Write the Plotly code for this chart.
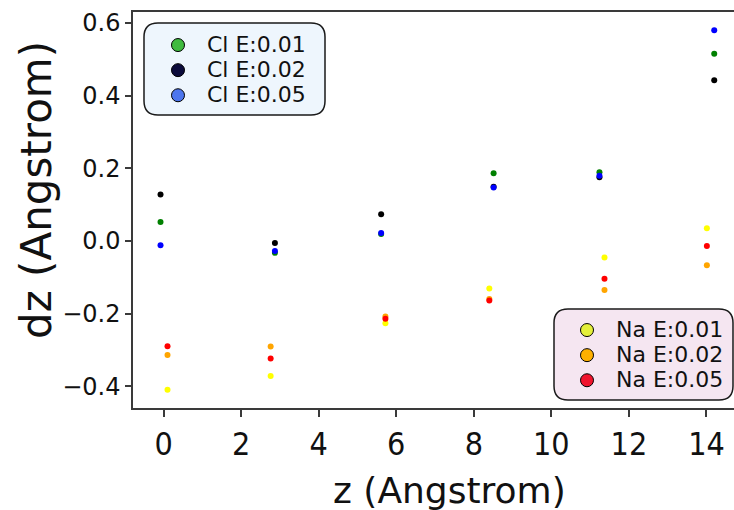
import plotly.graph_objects as go

# ---- data: ion positions along z and their vertical displacement dz (Angstrom)
cl_z = [-0.08, 2.87, 5.61, 8.51, 11.24, 14.20]
na_z = [0.10, 2.76, 5.72, 8.40, 11.37, 14.01]

cl_dz_e001 = [0.052, -0.033, 0.019, 0.186, 0.189, 0.515]
cl_dz_e002 = [0.128, -0.006, 0.073, 0.149, 0.175, 0.442]
cl_dz_e005 = [-0.012, -0.028, 0.022, 0.147, 0.179, 0.580]

na_dz_e001 = [-0.410, -0.372, -0.227, -0.131, -0.046, 0.035]
na_dz_e002 = [-0.314, -0.291, -0.208, -0.160, -0.135, -0.067]
na_dz_e005 = [-0.290, -0.324, -0.214, -0.164, -0.104, -0.014]

cl_labels = ["Cl E:0.01", "Cl E:0.02", "Cl E:0.05"]
na_labels = ["Na E:0.01", "Na E:0.02", "Na E:0.05"]

x_ticks = [0, 2, 4, 6, 8, 10, 12, 14]
y_ticks = [-0.4, -0.2, 0.0, 0.2, 0.4, 0.6]

# ---- styling
W, H = 734, 510
ML, MR, MT, MB = 133, 0, 12, 102
PW, PH = W - ML - MR, H - MT - MB

cl_point_colors = ["#008000", "#000000", "#0000ff"]
na_point_colors = ["#ffff00", "#ffa500", "#ff0000"]
cl_key_colors = ["#3fbb3f", "#0b0b3b", "#4d76ee"]
na_key_colors = ["#e4f03a", "#ffb000", "#f0142d"]

AXIS_COLOR = "#3a3a3a"
TEXT_COLOR = "#111111"
KEY_TEXT_SIZE = 22


def px_x(px):
    return (px - ML) / PW


def px_y(py):
    return (H - MB - py) / PH


def rounded_box(x0, y0, x1, y1, r):
    """SVG path (paper coords) of a rounded rectangle given in pixels."""
    X = lambda v: f"{px_x(v):.5f}"
    Y = lambda v: f"{px_y(v):.5f}"
    return (
        f"M {X(x0 + r)} {Y(y0)} L {X(x1 - r)} {Y(y0)} "
        f"Q {X(x1)} {Y(y0)} {X(x1)} {Y(y0 + r)} "
        f"L {X(x1)} {Y(y1 - r)} Q {X(x1)} {Y(y1)} {X(x1 - r)} {Y(y1)} "
        f"L {X(x0 + r)} {Y(y1)} Q {X(x0)} {Y(y1)} {X(x0)} {Y(y1 - r)} "
        f"L {X(x0)} {Y(y0 + r)} Q {X(x0)} {Y(y0)} {X(x0 + r)} {Y(y0)} Z"
    )


def key_label(text):
    return f"<span style='font-size:{KEY_TEXT_SIZE}px'>{text}</span>"


fig = go.Figure()

for dz, col, lab in zip([cl_dz_e001, cl_dz_e002, cl_dz_e005], cl_point_colors, cl_labels):
    fig.add_trace(go.Scatter(x=cl_z, y=dz, mode="markers", name=lab, showlegend=False,
                             marker=dict(size=6, color=col, line=dict(width=0))))
for dz, col, lab in zip([na_dz_e001, na_dz_e002, na_dz_e005], na_point_colors, na_labels):
    fig.add_trace(go.Scatter(x=na_z, y=dz, mode="markers", name=lab, showlegend=False,
                             marker=dict(size=6, color=col, line=dict(width=0))))

# legend keys
for col, lab in zip(cl_key_colors, cl_labels):
    fig.add_trace(go.Scatter(x=[None], y=[None], mode="markers", name=key_label(lab),
                             legend="legend",
                             marker=dict(size=13, color=col, line=dict(color="black", width=1))))
for col, lab in zip(na_key_colors, na_labels):
    fig.add_trace(go.Scatter(x=[None], y=[None], mode="markers", name=key_label(lab),
                             legend="legend2",
                             marker=dict(size=13, color=col, line=dict(color="black", width=1))))

legend_font = dict(family="DejaVu Sans", size=17, color=TEXT_COLOR)
legend_common = dict(xanchor="left", yanchor="top", bgcolor="rgba(0,0,0,0)", borderwidth=0,
                     font=legend_font, itemwidth=48, tracegroupgap=0)

fig.update_layout(
    width=W, height=H,
    margin=dict(l=ML, r=MR, t=MT, b=MB, pad=0),
    paper_bgcolor="white", plot_bgcolor="white",
    legend=dict(x=px_x(149), y=px_y(27.5), **legend_common),
    legend2=dict(x=px_x(558), y=px_y(312.5), **legend_common),
    shapes=[
        dict(type="path", xref="paper", yref="paper", layer="above",
             path=rounded_box(144, 23, 325, 115, 14),
             fillcolor="#eef6fd", line=dict(color="#1a1a1a", width=1.5)),
        dict(type="path", xref="paper", yref="paper", layer="above",
             path=rounded_box(554, 309, 733, 400, 14),
             fillcolor="#f5e6f1", line=dict(color="#1a1a1a", width=1.5)),
    ],
    annotations=[
        dict(text="z (Angstrom)", xref="paper", yref="paper", x=px_x(449), y=px_y(490),
             xanchor="center", yanchor="middle", showarrow=False,
             font=dict(family="DejaVu Sans", size=36, color=TEXT_COLOR)),
        dict(text="dz (Angstrom)", xref="paper", yref="paper", x=px_x(36), y=px_y(190),
             xanchor="center", yanchor="middle", showarrow=False, textangle=-90,
             font=dict(family="DejaVu Sans", size=42, color=TEXT_COLOR)),
    ],
)

fig.update_xaxes(
    range=[-0.79, 14.71], tickvals=x_ticks, ticktext=[str(v) for v in x_ticks],
    showgrid=False, zeroline=False,
    showline=True, mirror=True, linecolor=AXIS_COLOR, linewidth=1.5,
    ticks="outside", ticklen=7, tickwidth=1.5, tickcolor=AXIS_COLOR,
    tickfont=dict(family="DejaVu Sans Condensed, DejaVu Sans", size=32, color=TEXT_COLOR),
)
fig.update_yaxes(
    range=[-0.460, 0.630], tickvals=y_ticks, tickformat=".1f",
    showgrid=False, zeroline=False,
    showline=True, mirror=False, linecolor=AXIS_COLOR, linewidth=1.5,
    ticks="outside", ticklen=6, tickwidth=1.5, tickcolor=AXIS_COLOR,
    tickfont=dict(family="DejaVu Sans", size=24, color=TEXT_COLOR),
)

fig.write_html("out.html")
